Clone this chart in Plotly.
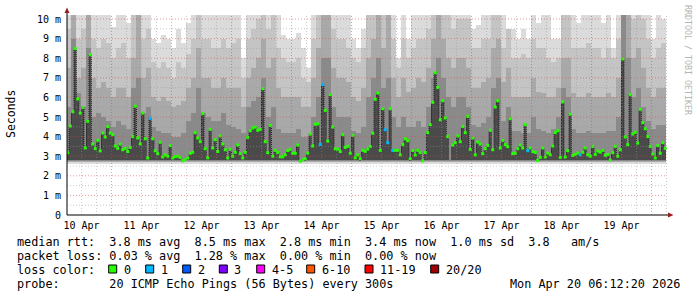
import numpy as np
import pandas as pd
import plotly.graph_objects as go

nan = float("nan")

# ---------------- data ----------------
# hourly median RTT in ms, 240 hours from 10 Apr 06:00 to 20 Apr 06:00
median_ms = [
    3.18, 4.54, 5.27, 8.49, 5.92, 5.2, 5.49, 3.42, 4.78, 8.18,
    3.62, 3.39, 3.81, 3.27, 4.18, 3.98, 4.51, 4.18, 4.1, 3.52,
    3.4, 3.62, 3.33, 3.4, 3.24, 3.45, 4.0, 5.55, 3.93, 3.63,
    5.2, 3.89, 2.91, 4.93, 3.89, 3.28, 3.13, 3.71, 2.96, 3.06,
    3.0, 3.54, 2.91, 2.98, 3.0, 2.94, 2.76, 2.82, 2.91, 3.15,
    3.2, 4.2, 3.93, 3.74, 5.17, 3.38, 2.92, 4.37, 3.42, 3.84,
    3.24, 4.03, 3.62, 3.33, 2.91, 3.35, 3.0, 3.2, 3.57, 3.13,
    2.91, 3.2, 3.96, 4.3, 4.44, 4.49, 4.32, 4.37, 6.44, 3.74,
    3.18, 4.57, 3.0, 3.3, 3.19, 2.97, 2.97, 3.07, 3.29, 3.35,
    3.15, 3.15, 3.57, 2.74, 2.82, 2.87, 3.16, 4.13, 3.52, 4.63,
    4.65, 3.6, 6.65, 5.34, 3.77, 6.14, 4.49, 3.38, 3.36, 3.24,
    4.1, 3.45, 3.5, 3.15, 4.06, 2.92, 3.06, 2.87, 3.3, 3.25,
    3.36, 3.5, 4.17, 5.9, 6.22, 3.3, 5.42, 4.35, 3.69, 5.42,
    3.29, 3.3, 3.3, 3.07, 3.6, 3.89, 3.79, 2.87, 3.29, 3.06,
    3.3, 3.18, 2.76, 3.19, 4.2, 4.61, 5.75, 7.26, 6.51, 4.86,
    5.83, 4.95, 4.0, nan, 3.57, 3.69, 4.03, 3.74, 4.51, 4.2,
    5.03, 3.35, 3.93, 3.07, 3.72, 3.62, 3.13, 3.38, 3.55, 4.32,
    3.33, 5.51, 5.83, 3.42, 3.81, 3.59, 3.49, 4.91, 3.13, 3.15,
    3.38, 3.57, 3.42, 4.61, 3.28, 3.42, 3.24, 3.19, 2.78, 2.94,
    3.42, 2.96, 3.16, 3.07, 3.52, 4.2, 4.3, 2.94, 5.77, 2.96,
    3.28, 5.14, 3.04, 3.09, 3.16, 3.07, 3.2, 3.42, 3.07, 3.0,
    3.5, 3.09, 3.26, 3.21, 3.3, 3.04, 3.09, 2.8, 3.18, 3.5,
    3.0, 3.33, 7.96, 3.98, 3.59, 6.14, 4.13, 4.22, 3.67, 5.39,
    4.71, 4.4, 4.0, 3.5, 3.11, 2.91, 3.54, 3.15, 3.69, 3.4,
]
# hours whose median had 1 of 20 pings lost
loss1_hours = [33, 101, 102, 127, 128, 130, 184, 205]

# smoke (2-hour slots): tops of the grey bands, ms
smoke_max = [
    10.5, 10.5, 10.5, 10.5, 10.5, 10.5, 10.5, 10.5, 10.5, 9.6,
    10.5, 10.5, 9.8, 10.5, 10.5, 10.5, 10.5, 9.0, 8.8, 9.2,
    9.0, 8.5, 9.5, 8.8, 9.8, 10.5, 10.5, 10.5, 10.5, 10.5,
    10.5, 10.5, 10.5, 10.5, 10.5, 8.0, 10.5, 10.5, 10.5, 10.5,
    10.5, 10.5, 10.5, 9.2, 9.0, 9.0, 9.3, 8.5, 7.5, 10.5,
    10.5, 10.5, 10.5, 10.5, 10.5, 10.5, 10.5, 9.0, 8.5, 9.5,
    10.5, 10.5, 10.5, 10.5, 10.5, 10.5, 8.0, 10.5, 9.0, 10.5,
    10.5, 10.5, 10.5, 10.5, 10.5, 10.5, 10.5, 10.5, 10.5, 10.5,
    10.5, 9.5, 9.7, 10.5, 10.5, 10.5, 10.5, 10.5, 9.5, 9.5,
    9.0, 9.5, 9.0, 10.5, 9.8, 10.5, 10.5, 9.0, 9.0, 10.5,
    10.5, 10.5, 9.8, 10.5, 10.5, 10.5, 10.5, 9.8, 10.5, 8.5,
    10.5, 10.5, 10.5, 10.5, 10.5, 10.5, 10.5, 9.0, 10.5, 10.0,
]
smoke_q2 = [
    9.5, 10.5, 9.0, 9.5, 10.5, 9.0, 8.5, 9.0, 8.8, 8.0,
    8.5, 8.8, 8.0, 10.5, 10.5, 9.0, 9.5, 7.8, 7.5, 7.8,
    7.5, 7.0, 7.8, 7.5, 8.2, 9.0, 10.5, 9.0, 9.0, 8.5,
    8.5, 9.0, 8.5, 8.8, 9.0, 7.0, 9.0, 9.5, 10.0, 10.5,
    9.5, 10.5, 8.5, 8.0, 7.8, 7.8, 8.0, 7.0, 6.8, 9.0,
    10.5, 10.5, 10.5, 9.5, 9.0, 9.0, 8.5, 8.0, 7.8, 8.5,
    10.5, 10.5, 10.5, 10.5, 10.5, 9.0, 7.5, 9.0, 8.0, 8.5,
    9.0, 9.0, 9.5, 10.5, 10.5, 10.5, 10.5, 9.5, 10.0, 10.0,
    10.0, 8.5, 8.5, 9.0, 9.0, 10.5, 10.5, 8.5, 9.5, 8.0,
    8.0, 8.2, 8.0, 9.0, 8.5, 8.5, 8.0, 7.8, 8.0, 10.5,
    10.5, 8.5, 8.5, 8.5, 8.8, 8.5, 8.5, 8.0, 8.5, 8.0,
    9.0, 10.5, 10.5, 10.0, 10.5, 10.0, 9.0, 8.0, 8.5, 8.8,
]
smoke_q3 = [
    7.5, 10.5, 7.0, 7.5, 10.5, 7.0, 6.5, 6.8, 6.5, 6.0,
    6.5, 6.5, 6.0, 8.0, 10.5, 7.0, 7.5, 6.0, 5.8, 6.0,
    5.8, 5.5, 5.6, 5.8, 6.5, 7.0, 8.5, 7.0, 7.0, 6.5,
    6.5, 7.0, 6.5, 6.5, 6.5, 5.5, 7.0, 7.5, 8.0, 9.0,
    7.5, 8.0, 6.5, 6.0, 6.0, 6.0, 6.0, 5.5, 5.5, 7.0,
    8.5, 10.5, 10.5, 7.5, 7.0, 7.0, 6.8, 6.0, 5.8, 6.5,
    8.0, 9.0, 10.5, 8.5, 10.5, 7.0, 6.0, 7.0, 6.3, 6.5,
    7.0, 6.8, 7.5, 9.0, 10.5, 9.0, 8.0, 7.5, 8.0, 8.0,
    7.5, 6.5, 6.5, 6.8, 7.0, 8.5, 9.0, 6.8, 7.5, 6.0,
    6.0, 6.0, 6.0, 7.0, 6.3, 6.2, 6.0, 6.0, 6.5, 8.0,
    8.0, 6.2, 6.0, 6.0, 6.2, 6.0, 6.0, 6.0, 6.2, 6.0,
    7.0, 10.5, 10.5, 8.0, 8.5, 7.5, 6.5, 6.0, 6.5, 6.5,
]
smoke_q4 = [
    5.5, 9.0, 6.2, 5.5, 8.5, 5.0, 5.2, 5.0, 4.8, 4.5,
    4.8, 4.6, 4.4, 6.5, 7.0, 5.2, 5.5, 4.5, 4.3, 4.2,
    4.2, 4.0, 4.0, 4.2, 4.8, 5.2, 6.5, 5.2, 5.0, 4.8,
    4.8, 5.2, 4.6, 4.5, 4.4, 4.2, 5.5, 5.8, 6.0, 7.0,
    5.0, 5.5, 4.4, 4.2, 4.2, 4.2, 4.4, 4.0, 4.0, 5.0,
    6.0, 8.0, 8.0, 5.5, 5.0, 5.0, 5.0, 4.3, 4.2, 4.5,
    6.0, 7.0, 8.0, 6.5, 7.0, 5.0, 4.5, 5.0, 4.5, 4.5,
    4.8, 4.5, 5.5, 7.0, 8.0, 7.0, 6.0, 5.5, 6.0, 6.0,
    5.5, 4.6, 4.5, 4.7, 5.0, 6.5, 7.0, 4.8, 5.5, 4.3,
    4.3, 4.2, 4.2, 5.0, 4.4, 4.3, 4.2, 4.4, 5.0, 6.5,
    6.0, 4.4, 4.2, 4.2, 4.3, 4.2, 4.2, 4.2, 4.3, 4.3,
    5.0, 10.5, 8.0, 6.0, 6.5, 5.5, 4.8, 4.4, 4.6, 4.6,
]
smoke_floor = [2.62, 2.68, 2.72, 2.76, 2.8]   # bottoms of the bands

ytick_vals = [0, 1, 2, 3, 4, 5, 6, 7, 8, 9, 10]
ytick_text = ["0", "1 m", "2 m", "3 m", "4 m", "5 m", "6 m", "7 m", "8 m", "9 m", "10 m"]

loss_labels = ["0", "1", "2", "3", "4-5", "6-10", "11-19", "20/20"]
loss_colors = ["#26ff00", "#00b8ff", "#0059ff", "#7e00ff", "#ff00ff", "#ff5500", "#ff0000", "#a10000"]

stat_lines = [
    "median rtt:  3.8 ms avg  8.5 ms max  2.8 ms min  3.4 ms now  1.0 ms sd  3.8   am/s",
    "packet loss: 0.03 % avg  1.28 % max  0.00 % min  0.00 % now",
    "loss color:",
    "probe:       20 ICMP Echo Pings (56 Bytes) every 300s",
]
stamp = "Mon Apr 20 06:12:20 2026"
credit = "RRDTOOL / TOBI OETIKER"

# ---------------- geometry ----------------
W, H = 697, 297
L, R, T, B = 67, 30, 15, 82
PW, PH = W - L - R, H - T - B

def px(x):
    return (x - L) / PW

def py(y):
    return (T + PH - y) / PH

t_start = pd.Timestamp("2026-04-10 06:12:20")
t_end = t_start + pd.Timedelta(days=10)
hours = pd.date_range("2026-04-10 06:30", periods=len(median_ms), freq="h")
slots = pd.date_range("2026-04-10 07:00", periods=len(smoke_max), freq="2h")
med = np.array(median_ms, dtype=float)

fig = go.Figure()

band_colors = ["#dbdbdb", "#c4c4c4", "#a9a9a9", "#8a8a8a"]
for tops, base, col in zip([smoke_max, smoke_q2, smoke_q3, smoke_q4], smoke_floor[:4], band_colors):
    tops = np.array(tops, dtype=float)
    fig.add_trace(go.Bar(x=slots, y=tops - base, base=base, width=2 * 3600 * 1000,
                         marker=dict(color=col, line=dict(width=0)), hoverinfo="skip",
                         showlegend=False))

ok = ~np.isnan(med)
fig.add_trace(go.Bar(x=hours[ok], y=med[ok] - smoke_floor[4], base=smoke_floor[4],
                     width=3600 * 1000, marker=dict(color="#4a4a4a", line=dict(width=0)),
                     hoverinfo="skip", showlegend=False))

fig.add_trace(go.Scatter(x=hours, y=med, mode="lines", line_shape="hvh",
                         line=dict(color="#1e1e1e", width=1, dash="1px,1px"),
                         connectgaps=False, hoverinfo="skip", showlegend=False))

mcol = [loss_colors[1] if i in loss1_hours else loss_colors[0] for i in range(len(med))]
fig.add_trace(go.Scatter(x=hours, y=med, mode="markers",
                         marker=dict(symbol="square", size=3, color=mcol, line=dict(width=0)),
                         hoverinfo="skip", showlegend=False))

shapes = []
# grid (drawn above the smoke, like rrdtool)
for d in pd.date_range(t_start.floor("6h"), t_end, freq="6h"):
    if d <= t_start or d >= t_end:
        continue
    major = d.hour == 0
    shapes.append(dict(type="line", xref="x", yref="y domain", x0=d, x1=d, y0=0, y1=1,
                       line=dict(color="rgba(225,70,70,0.55)" if major else "rgba(150,150,150,0.5)",
                                 width=1, dash="1px,2px"), layer="above"))
for v in np.arange(0.5, 10.01, 0.5):
    major = float(v).is_integer()
    shapes.append(dict(type="line", xref="x domain", yref="y", x0=0, x1=1, y0=v, y1=v,
                       line=dict(color="rgba(225,70,70,0.55)" if major else "rgba(150,150,150,0.5)",
                                 width=1, dash="1px,2px"), layer="above"))
# axes with arrows
shapes.append(dict(type="line", xref="paper", yref="paper", x0=px(67), x1=px(67), y0=py(215), y1=py(12),
                   line=dict(color="#000000", width=1), layer="above"))
shapes.append(dict(type="line", xref="paper", yref="paper", x0=px(67), x1=px(669), y0=py(215), y1=py(215),
                   line=dict(color="#000000", width=1), layer="above"))
shapes.append(dict(type="path", xref="paper", yref="paper",
                   path=f"M {px(64.5)} {py(13)} L {px(67)} {py(7.5)} L {px(69.5)} {py(13)} Z",
                   fillcolor="#9b1c1c", line=dict(width=0), layer="above"))
shapes.append(dict(type="path", xref="paper", yref="paper",
                   path=f"M {px(668)} {py(212.5)} L {px(673.5)} {py(215)} L {px(668)} {py(217.5)} Z",
                   fillcolor="#9b1c1c", line=dict(width=0), layer="above"))
# loss colour boxes
box_left = [108.7, 145.7, 182.7, 219.3, 256.7, 306.7, 365.0, 430.7]
for bx, col in zip(box_left, loss_colors):
    shapes.append(dict(type="rect", xref="paper", yref="paper", x0=px(bx), x1=px(bx + 8),
                       y0=py(273), y1=py(265), fillcolor=col, line=dict(color="#000000", width=1)))

mono = "DejaVu Sans Mono"
NB = "\u00a0"
ann = []
for line, yc in zip(stat_lines, [241.5, 255.5, 269.5, 283.5]):
    ann.append(dict(text=line.replace(" ", NB), x=px(16), y=py(yc), xref="paper", yref="paper",
                    xanchor="left", yanchor="middle", showarrow=False, borderpad=0,
                    font=dict(family=mono, size=11.8, color="#000000")))
for bx, lab in zip(box_left, loss_labels):
    ann.append(dict(text=lab, x=px(bx + 14), y=py(269.5), xref="paper", yref="paper",
                    xanchor="left", yanchor="middle", showarrow=False, borderpad=0,
                    font=dict(family=mono, size=11.8, color="#000000")))
ann.append(dict(text=stamp, x=px(681), y=py(283.5), xref="paper", yref="paper",
                xanchor="right", yanchor="middle", showarrow=False, borderpad=0,
                font=dict(family=mono, size=11.8, color="#000000")))
ann.append(dict(text="Seconds", x=px(11), y=py(114), xref="paper", yref="paper",
                xanchor="center", yanchor="middle", showarrow=False, textangle=-90, borderpad=0,
                font=dict(family=mono, size=11.5, color="#000000")))
ann.append(dict(text=credit.replace(" ", NB), x=px(688), y=py(60), xref="paper", yref="paper",
                xanchor="center", yanchor="middle", showarrow=False, textangle=90, borderpad=0,
                font=dict(family=mono, size=8.3, color="#b4b4b4")))

fig.update_layout(
    width=W, height=H, margin=dict(l=L, r=R, t=T, b=B, pad=0),
    paper_bgcolor="#ffffff", plot_bgcolor="#ffffff",
    barmode="overlay", bargap=0, showlegend=False,
    shapes=shapes, annotations=ann,
    font=dict(family=mono, size=10, color="#000000"),
)
fig.update_xaxes(range=[t_start, t_end], type="date", showgrid=False, zeroline=False, showline=False,
                 ticks="", dtick=86400000, tick0="2026-04-10", tickformat="%d %b",
                 ticklabelmode="period", ticklabelstandoff=3,
                 tickfont=dict(family=mono, size=10, color="#000000"))
fig.update_yaxes(range=[0, PH / 19.6], showgrid=False, zeroline=False, showline=False, ticks="",
                 tickvals=ytick_vals, ticktext=ytick_text, ticklabelstandoff=5,
                 tickfont=dict(family=mono, size=10, color="#000000"))

fig.write_html("out.html")
